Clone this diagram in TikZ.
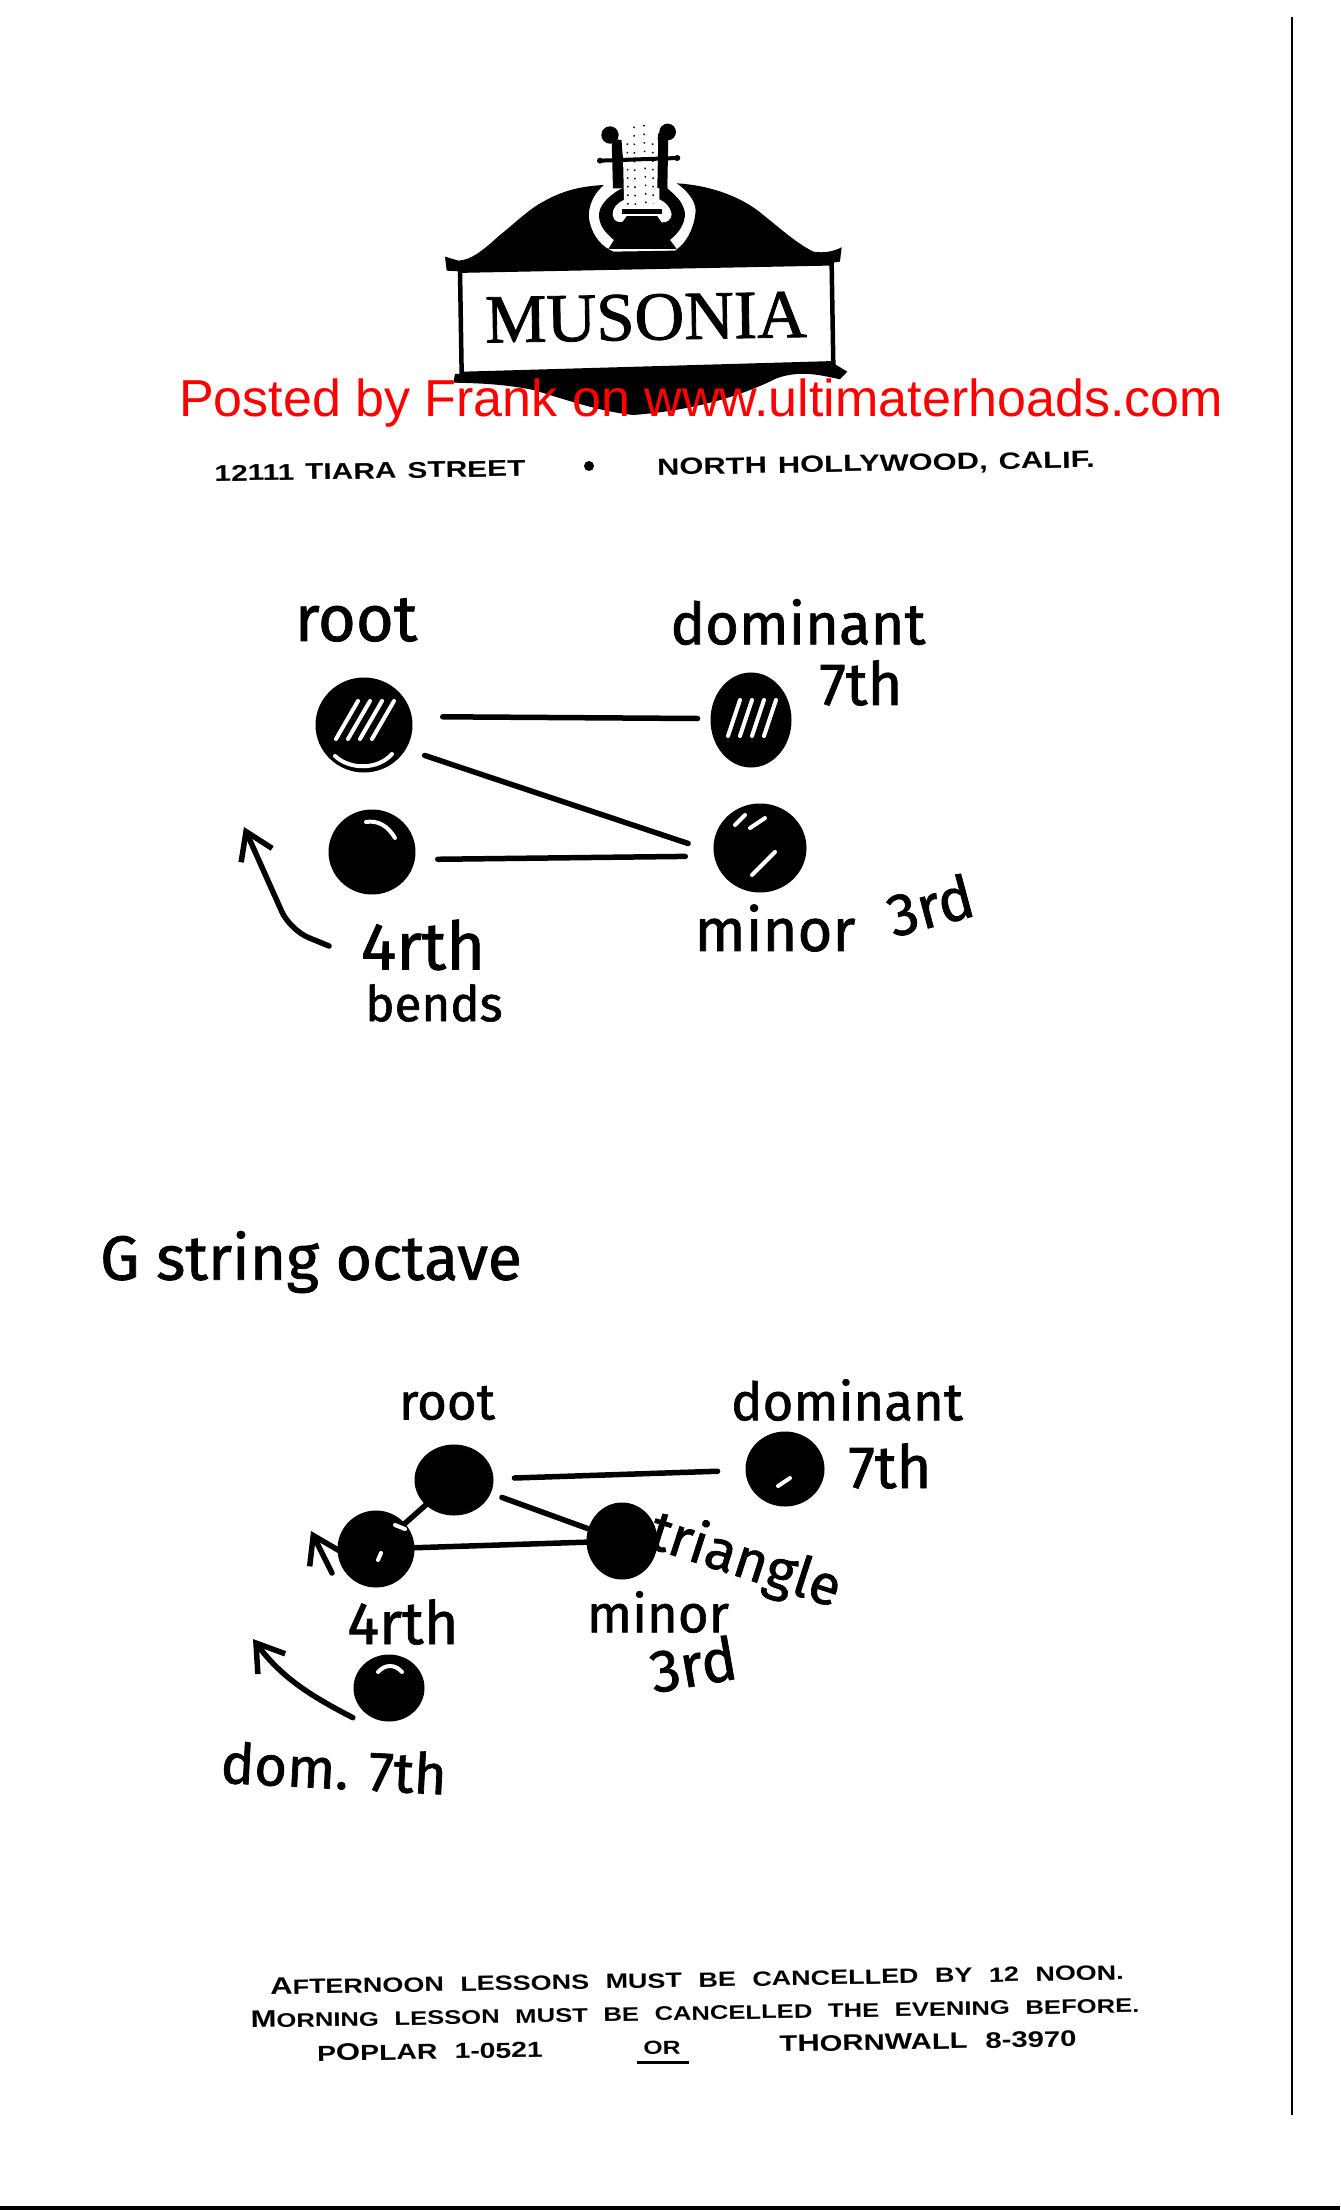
\documentclass[tikz,border=0pt]{standalone}
\usepackage{fontspec}
\usepackage{xcolor}
\usepackage{tikz}
\usetikzlibrary{arrows.meta, positioning, shapes.geometric, calc}
\newfontfamily\handfont[FakeBold=1.2]{Fira Sans}
\newfontfamily\printfont[FakeStretch=1.3,WordSpace=2.2]{Liberation Sans}
\newfontfamily\addrfont[FakeStretch=1.31,WordSpace=1.3]{Liberation Sans}
\newfontfamily\redfont{Liberation Sans}
\newfontfamily\logofont[FakeBold=1.2]{Liberation Serif}
\newcommand{\capA}[1]{{\fontsize{6.8}{7}\selectfont #1}}
\definecolor{watermark}{RGB}{255,0,0}
\tikzset{
  dot/.style 2 args={ellipse, fill=black, draw=black, line width=0.5mm, inner sep=0pt, minimum width=#1, minimum height=#2},
  hand/.style={font=\handfont\fontsize{#1}{#1}\selectfont, inner sep=0pt},
  printed/.style={font=\printfont\bfseries\fontsize{#1}{#1}\selectfont, inner sep=0pt, rotate=1},
  address/.style={font=\addrfont\bfseries\fontsize{#1}{#1}\selectfont, inner sep=0pt, rotate=1},
  link/.style={line width=0.55mm, line cap=round},
  bendarrow/.style={line width=0.55mm, line cap=round, -{Straight Barb[length=2.6mm, width=3.4mm, line width=0.55mm]}},
  glint/.style={white, line width=0.4mm, line cap=round}
}
\begin{document}
\begin{tikzpicture}[x=0.1mm, y=-0.1mm]
\useasboundingbox (0,0) rectangle (1340,2210);
\fill[white] (0,0) rectangle (1340,2210);

% page edges of the scan
\draw[line width=0.2mm] (1292,17) -- (1292,2115);
\fill[black] (0,2206) rectangle (1340,2210);

% letterhead
\begin{scope}[shift={(400,100)}, scale=0.3333]
\fill[black] (135,470) -- (175,482) .. controls (215,480) and (250,450) .. (300,405)
  .. controls (350,365) and (390,325) .. (430,305) .. controls (490,270) and (550,258) .. (612,255)
  .. controls (570,290) and (560,340) .. (570,370) .. controls (580,410) and (605,440) .. (640,455)
  -- (825,452) .. controls (860,430) and (885,380) .. (887,330) .. controls (885,300) and (860,270) .. (830,250)
  .. controls (920,255) and (1020,285) .. (1090,345) .. controls (1140,385) and (1190,430) .. (1240,455)
  .. controls (1270,460) and (1300,455) .. (1325,442) -- (1320,485) -- (1285,490) -- (190,515) -- (140,512) -- cycle;
\fill[black] (165,822) -- (1300,790) -- (1342,815) -- (1320,838)
  .. controls (1260,825) and (1200,810) .. (1130,835) .. controls (1040,880) and (900,930) .. (700,945)
  .. controls (600,935) and (500,900) .. (400,870) .. controls (300,850) and (220,850) .. (160,848) -- cycle;
\draw[line width=0.45mm, fill=white] (180,512) -- (1295,490) -- (1300,790) -- (185,822) -- cycle;
% lyre
\fill[black] (640,100) -- (662,130) -- (666,265) .. controls (620,290) and (595,320) .. (597,350)
  .. controls (600,385) and (625,405) .. (642,420) -- (625,447) -- (830,447) -- (810,420)
  .. controls (840,395) and (855,370) .. (855,340) .. controls (850,305) and (825,285) .. (802,265)
  -- (797,130) -- (800,95) -- (775,100) -- (772,130) -- (770,300) -- (680,300) -- (665,130) -- cycle;
\fill[white] (668,120) -- (672,300) .. controls (650,310) and (637,325) .. (638,345)
  .. controls (640,362) and (655,370) .. (668,365) -- (680,348) -- (772,348) -- (785,367)
  .. controls (800,370) and (815,358) .. (815,342) .. controls (812,322) and (795,305) .. (778,298) -- (780,120) -- cycle;
\fill[black] (630,105) circle (26);
\fill[black] (803,96) circle (25);
\draw[line width=1mm] (650,120) -- (654,265);
\draw[line width=1mm] (790,110) -- (787,265);
\draw[line width=0.4mm] (600,182) -- (835,174);
\fill[black] (600,182) circle (9);
\fill[black] (832,174) circle (9);
\fill[black] (665,327) rectangle (785,342);
\draw[line width=0.15mm, dotted] (682,130) -- (684,320);
\draw[line width=0.15mm, dotted] (702,80) -- (706,320);
\draw[line width=0.15mm, dotted] (732,75) -- (738,310);
\draw[line width=0.15mm, dotted] (758,130) -- (760,310);
\node[font=\logofont\fontsize{19.6}{19.6}\selectfont, inner sep=0pt, rotate=1] (musonia) at (738,652) {MUSONIA};
\end{scope}

\node[address=6.5] (street) at (370,471) {12111 TIARA STREET};
\fill[black] (589,466) circle (5);
\node[address=6.7] (city) at (876,465) {NORTH HOLLYWOOD, CALIF.};

% first shape
\node[dot={9.2mm}{9mm}] (root1) at (364,725) {};
\node[dot={7.6mm}{9mm}] (dom1) at (751,720) {};
\node[dot={8.2mm}{8mm}] (four1) at (372,852) {};
\node[dot={8.8mm}{8.4mm}] (minor1) at (760,848) {};
\node[hand=18.5] (rootlbl1) at (356,620) {root};
\node[hand=16.5] (domlbl1) at (798,622) {dominant};
\node[hand=17] (sevlbl1) at (861,683) {7th};
\node[hand=19] (fourlbl1) at (423,945) {4rth};
\node[hand=14] (bendlbl) at (434,1003) {bends};
\node[hand=17] (minorlbl1) at (775,928) {minor};
\node[hand=17, rotate=15] (thirdlbl1) at (930,905) {3rd};
\foreach \dx in {-16,-4,8,20}
  \draw[glint] ($(dom1)+(\dx-7,16)$) -- ($(dom1)+(\dx+5,-20)$);
\foreach \dx in {-16,-4,8,20}
  \draw[glint] ($(root1)+(\dx-12,14)$) -- ($(root1)+(\dx+10,-24)$);
\draw[glint] (335,756) .. controls (350,770) and (378,770) .. (392,754);
\draw[glint] (750,828) -- (765,818);
\draw[glint] (752,875) -- (775,852);
\draw[glint] (735,825) -- (745,815);
\draw[glint] (366,822) .. controls (378,820) and (388,826) .. (395,838);
\draw[link, shorten <=3.1mm, shorten >=1.3mm] (root1.10) -- (dom1.178);
\draw[link, shorten <=2mm, shorten >=2.7mm] (root1.-30) -- (minor1.185);
\draw[link, shorten <=2.3mm, shorten >=2.9mm] (four1.-10) -- (minor1.190);
\coordinate (bendtip) at (244,827);
\coordinate (bendknee) at (290,930);
\draw[bendarrow, rounded corners=2mm] (fourlbl1.west) ++(-31,1) -- (bendknee) -- (bendtip);

% second shape
\node[hand=17.8] (gstring) at (311,1262) {G string octave};
\node[dot={7.4mm}{6.6mm}] (root2) at (454,1480) {};
\node[dot={7.4mm}{7mm}] (dom2) at (785,1469) {};
\node[dot={7.2mm}{7.2mm}] (four2) at (376,1549) {};
\node[dot={6.6mm}{7.2mm}] (minor2) at (622,1541) {};
\node[dot={6.6mm}{6.2mm}] (domb) at (389,1688) {};
\node[hand=14.5] (rootlbl2) at (447,1403) {root};
\node[hand=15] (domlbl2) at (847,1400) {dominant};
\node[hand=17] (sevlbl2) at (890,1466) {7th};
\node[hand=17] (fourlbl2) at (403,1622) {4rth};
\node[hand=15] (minorlbl2) at (658,1612) {minor};
\node[hand=17, rotate=10] (thirdlbl2) at (693,1664) {3rd};
\node[hand=16, rotate=-18] (trianglbl) at (745,1562) {triangle};
\node[hand=16, rotate=-3] (domblbl) at (334,1768) {dom. 7th};
\draw[link, shorten <=2.1mm, shorten >=2.8mm] (root2) -- (dom2);
\draw[link, shorten <=1.2mm] (root2) -- (minor2);
\draw[link] (root2) -- (four2);
\draw[link] (four2) -- (minor2);
\draw[glint] (395,1525) -- (405,1529);
\draw[glint] (378,1560) -- (381,1553);
\draw[glint] (778,1486) -- (790,1478);
\draw[glint] (378,1672) .. controls (385,1664) and (395,1664) .. (402,1672);
\coordinate (fourtip) at (311,1531);
\coordinate (fourfoot) at (332,1573);
\draw[bendarrow] (fourfoot) -- (fourtip);
\coordinate (domtip) at (253,1639);
\draw[bendarrow] (domb.south west) ++(-11,6) .. controls (311,1696) and (282,1678) .. (domtip);

% footer
\node[printed=5.9] (line1) at (697,1979) {\capA{A}FTERNOON LESSONS MUST BE CANCELLED BY 12 NOON.};
\node[printed=5.6] (line2) at (695,2012) {\capA{M}ORNING LESSON MUST BE CANCELLED THE EVENING BEFORE.};
\node[printed=6.2] (poplar) at (430,2051) {P\capA{O}PLAR 1-0521};
\node[printed=5.4] (orword) at (662,2048) {OR};
\node[printed=6.4] (thorn) at (928,2041) {T\capA{H}ORNWALL 8-3970};
\coordinate (orleft) at (637,2062);
\coordinate (orright) at (689,2062);
\draw[line width=0.3mm] (orleft) -- (orright);

% watermark on top
\node[font=\redfont\fontsize{14.8}{15}\selectfont, text=watermark, inner sep=0pt] (posted) at (701,403) {Posted by Frank on www.ultimaterhoads.com};
\end{tikzpicture}
\end{document}
